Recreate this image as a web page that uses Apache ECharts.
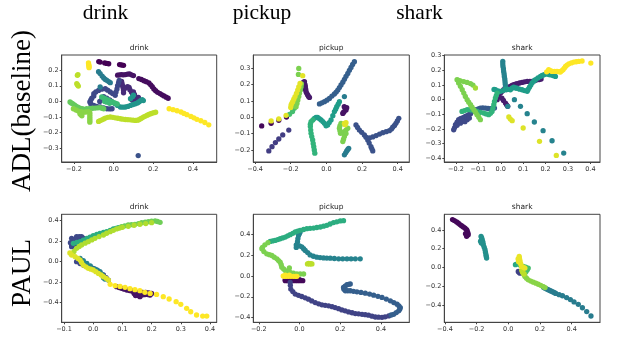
<!DOCTYPE html>
<html>
<head>
<meta charset="utf-8">
<script src="https://cdn.jsdelivr.net/npm/echarts@6/dist/echarts.min.js"></script>
<style>
  html, body { margin: 0; padding: 0; background: #fff; }
  #main { width: 638px; height: 343px; }
</style>
</head>
<body>
<div id="main"></div>
<script>
// viridis, t = 0 (start of sequence) .. 1 (end)
var viridis = ['#440154', '#482878', '#3e4a89', '#31688e', '#26828e', '#1f9e89', '#35b779', '#6ece58', '#b5de2b', '#fde725'];

var columns = ['drink', 'pickup', 'shark'];
var rows = ['ADL(baseline)', 'PAUL'];

// tick labels
var adlDrinkX = [-0.2, 0, 0.2, 0.4];
var adlDrinkY = [-0.3, -0.2, -0.1, 0, 0.1, 0.2];
var adlPickupX = [-0.4, -0.2, 0, 0.2, 0.4];
var adlPickupY = [-0.2, -0.1, 0, 0.1, 0.2, 0.3];
var adlSharkX = [-0.2, -0.1, 0, 0.1, 0.2, 0.3, 0.4];
var adlSharkY = [-0.4, -0.3, -0.2, -0.1, 0, 0.1, 0.2, 0.3];
var paulDrinkX = [-0.1, 0, 0.1, 0.2, 0.3, 0.4];
var paulDrinkY = [-0.4, -0.2, 0, 0.2, 0.4];
var paulPickupX = [-0.2, 0, 0.2, 0.4];
var paulPickupY = [-0.4, -0.2, 0, 0.2, 0.4];
var paulSharkX = [-0.4, -0.2, 0, 0.2, 0.4];
var paulSharkY = [-0.4, -0.2, 0, 0.2, 0.4];

// segments: [t, [[x, y], ...]]
var adlDrink = [
  [0.0, [[-0.075,0.255],[-0.068,0.252],[-0.045,0.246],[-0.035,0.243],[-0.025,0.241],[0.03,0.236],[0.04,0.233],[0.05,0.231]]],
  [0.03, [[0.127,0.146],[0.14,0.14],[0.153,0.132],[0.165,0.126],[0.178,0.118],[0.187,0.106],[0.195,0.094],[0.203,0.08],[0.212,0.068],[0.222,0.058],[0.234,0.05],[0.244,0.042],[0.254,0.035],[0.265,0.027],[0.275,0.02]]],
  [0.05, [[0.02,0.168],[0.03,0.17],[0.04,0.171],[0.05,0.17],[0.06,0.172],[0.07,0.175],[0.08,0.176],[0.09,0.17],[0.1,0.165]]],
  [0.12, [[0.04,0.128],[0.042,0.115],[0.045,0.1],[0.048,0.085],[0.05,0.07],[0.05,0.055],[0.06,0.085],[0.07,0.095],[0.078,0.09],[0.082,0.075],[0.09,0.06],[0.095,0.05],[0.1,0.06],[0.105,0.045],[0.108,0.03],[0.1,0.02],[0.09,0.015],[0.095,0.008],[0.11,0.006],[0.12,0.015],[0.125,0.025]]],
  [0.22, [[-0.11,0.02],[-0.115,0.01],[-0.12,-0.004],[-0.115,-0.016],[-0.1,-0.026],[-0.085,-0.032],[-0.068,-0.036],[-0.05,-0.042],[-0.034,-0.047],[-0.02,-0.048],[-0.008,-0.047],
          [-0.1,0.035],[-0.1,0.049],[-0.09,0.06],[-0.076,0.07],[-0.06,0.078],[-0.042,0.081],[-0.03,0.072],[-0.017,0.06],[-0.005,0.05],[0.008,0.039],[0.012,0.06],[0.017,0.08],[0.02,0.1],[0.025,0.12],[0.028,0.135],
          [-0.05,0.03],[-0.035,0.02],[-0.02,0.01],[-0.01,0.0],[-0.06,0.01],[-0.07,0.0]]],
  [0.25, [[0.124,-0.347]]],
  [0.42, [[-0.076,0.19],[-0.068,0.178],[-0.058,0.162],[-0.05,0.15],[-0.042,0.14],[-0.034,0.135],[-0.025,0.127],[-0.017,0.12],[-0.068,0.092]]],
  [0.52, [[0.008,-0.015],[0.02,-0.026],[0.034,-0.036],[0.047,-0.037],[0.06,-0.036],[0.072,-0.032],[0.085,-0.026],[0.098,-0.02],[0.11,-0.015],[0.12,-0.01],[0.127,-0.004],[0.136,0.004],[0.144,0.011],[0.15,0.005],[0.085,0.017],[0.095,0.03],[0.1,0.04]]],
  [0.68, [[-0.06,0.028],[-0.05,0.022],[-0.042,0.017],[-0.033,0.011],[-0.025,0.006],[-0.016,0.0],[-0.008,-0.004],[0.0,-0.008],[0.008,-0.011],[0.018,-0.016],[-0.045,0.0],[-0.035,-0.005],[-0.02,-0.012]]],
  [0.76, [[-0.22,-0.004],[-0.214,-0.01],[-0.207,-0.015],[-0.198,-0.022],[-0.19,-0.03],[-0.18,-0.037],[-0.17,-0.043],[-0.16,-0.047],[-0.152,-0.049],[-0.136,-0.047],[-0.12,-0.045],[-0.106,-0.044],[-0.093,-0.043],[-0.08,-0.041],[-0.068,-0.04],[-0.058,-0.044],[-0.05,-0.047]]],
  [0.82, [[-0.203,-0.047],[-0.19,-0.055],[-0.178,-0.062],[-0.165,-0.066],[-0.152,-0.069],[-0.14,-0.068],[-0.17,-0.079],[-0.165,-0.086],[-0.16,-0.092],[-0.128,-0.065],[-0.12,-0.072],[-0.12,-0.085],[-0.12,-0.098],[-0.12,-0.11],[-0.12,-0.122],[-0.12,-0.133]]],
  [0.9, [[-0.076,-0.128],[-0.068,-0.123],[-0.059,-0.118],[-0.05,-0.112],[-0.042,-0.107],[-0.03,-0.102],[-0.017,-0.1],[-0.004,-0.102],[0.008,-0.105],[0.021,-0.108],[0.034,-0.111],[0.046,-0.114],[0.059,-0.116],[0.072,-0.117],[0.085,-0.118],[0.098,-0.12],[0.11,-0.122],[0.12,-0.12],[0.127,-0.118],[0.136,-0.111],[0.144,-0.105],[0.152,-0.099],[0.161,-0.094],[0.17,-0.088],[0.178,-0.083],[0.187,-0.079],[0.195,-0.075],[0.204,-0.072],[0.212,-0.069],
         [-0.183,0.167],[-0.18,0.172],[-0.186,0.113],[-0.182,0.105],[-0.178,0.098]]],
  [1.0, [[-0.127,0.246],[-0.126,0.238],[-0.125,0.231],[-0.124,0.222],[-0.124,0.216],
         [0.28,-0.047],[0.30,-0.053],[0.32,-0.06],[0.34,-0.068],[0.355,-0.077],[0.37,-0.085],[0.39,-0.096],[0.405,-0.105],[0.42,-0.115],[0.44,-0.124],[0.46,-0.135],[0.48,-0.15]]]
];

var adlPickup = [
  [0.02, [[-0.363,-0.053],[-0.31,-0.037],[-0.267,-0.018],[-0.224,0.002]]],
  [0.05, [[0.1,0.065],[0.106,0.055],[0.11,0.045],[0.1,0.035],[0.092,0.024],[0.114,0.059],[0.095,0.03]]],
  [0.07, [[-0.136,0.208],[-0.128,0.215],[-0.123,0.218],[-0.12,0.2],[-0.118,0.188],[-0.116,0.172],[-0.114,0.157],[-0.11,0.147],[-0.105,0.137],[-0.1,0.128],[-0.095,0.122],[-0.13,0.19],[-0.125,0.175]]],
  [0.18, [[-0.323,-0.206],[-0.305,-0.18],[-0.286,-0.155],[-0.267,-0.133],[-0.245,-0.108],[-0.211,-0.078]]],
  [0.25, [[0.166,-0.047],[0.175,-0.062],[0.185,-0.078],[0.198,-0.092],[0.213,-0.108],[0.222,-0.122],[0.232,-0.139],[0.24,-0.158],[0.25,-0.18],[0.255,-0.193],[0.26,-0.206],
          [0.241,-0.127],[0.26,-0.12],[0.279,-0.112],[0.298,-0.103],[0.316,-0.094],[0.335,-0.088],[0.353,-0.082],[0.365,-0.072],[0.372,-0.061],[0.382,-0.05],[0.39,-0.037],[0.398,-0.022],[0.406,-0.006]]],
  [0.3, [[-0.039,0.082],[-0.025,0.089],[-0.011,0.096],[0.003,0.105],[0.017,0.116],[0.031,0.13],[0.045,0.143],[0.055,0.155],[0.064,0.167],[0.073,0.182],[0.082,0.198],[0.092,0.215],[0.101,0.233],[0.11,0.251],[0.12,0.269],[0.129,0.288],[0.138,0.306],[0.147,0.324],[0.157,0.341]]],
  [0.42, [[0.101,0.127],[0.101,-0.23],[0.108,-0.218],[0.114,-0.206],[0.12,-0.197],[0.125,-0.19]]],
  [0.55, [[0.073,0.096],[0.066,0.08],[0.058,0.065],[0.052,0.05],[0.045,0.035],[0.036,0.01],[0.026,-0.016],[0.016,-0.032],[0.007,-0.047],[-0.002,-0.052],[-0.011,-0.037],[-0.02,-0.026],[-0.03,-0.016],[-0.04,-0.008],[-0.049,0.0],[-0.058,0.0],[-0.067,-0.006]]],
  [0.65, [[-0.076,-0.016],[-0.086,-0.027],[-0.09,-0.042],[-0.09,-0.057],[-0.088,-0.078],[-0.086,-0.098],[-0.082,-0.118],[-0.077,-0.139],[-0.074,-0.16],[-0.071,-0.18],[-0.068,-0.2],[-0.065,-0.22]]],
  [0.7, [[-0.18,0.055],[-0.175,0.075],[-0.17,0.095],[-0.165,0.115],[-0.16,0.135],[-0.155,0.155],[-0.207,0.018],[-0.19,0.035]]],
  [0.8, [[-0.17,0.065],[-0.165,0.085],[-0.16,0.106],[-0.155,0.127],[-0.151,0.147],[-0.146,0.168],[-0.142,0.188],[-0.14,0.205],[-0.157,0.263],[-0.155,0.3],
         [0.082,-0.037],[0.076,-0.052],[0.073,-0.067],[0.076,-0.082],[0.079,-0.098],[0.09,-0.095],[0.101,-0.088],[0.11,-0.078],[0.12,-0.067],[0.11,-0.1],[0.101,-0.118],[0.096,-0.134],[0.092,-0.149]]],
  [0.96, [[-0.198,0.076],[-0.194,0.086],[-0.189,0.096],[-0.183,0.111],[-0.176,0.127],[-0.168,0.147],[-0.161,0.167],[-0.155,0.187],[-0.148,0.208],[-0.133,0.255],
          [-0.31,-0.022],[-0.267,-0.01],[-0.226,0.012],[-0.2,0.06],[0.101,-0.037],[0.11,-0.033],[0.105,-0.045]]]
];

var adlShark = [
  [0.08, [[-0.016,0.0],[-0.008,0.022],[-0.001,0.045],[0.006,0.057],[0.013,0.068],[0.02,0.074],[0.028,0.08],[0.036,0.086],[0.043,0.091],[0.05,0.097],[0.058,0.102],[0.066,0.106],[0.073,0.109],[0.084,0.114],[0.095,0.118],[0.106,0.122],[0.118,0.125],[0.13,0.125],[0.14,0.125],[0.151,0.13],[0.162,0.136],[0.172,0.138],[0.18,0.141],
          [0.005,0.01],[0.012,-0.005],[0.021,-0.023],[0.026,-0.035],[0.031,-0.045]]],
  [0.22, [[-0.21,-0.205],[-0.206,-0.19],[-0.202,-0.17],[-0.195,-0.153],[-0.188,-0.136],[-0.18,-0.13],[-0.173,-0.125],[-0.165,-0.12],[-0.158,-0.114],[-0.15,-0.108],[-0.143,-0.102],[-0.15,-0.136],[-0.16,-0.15],[-0.17,-0.145],[-0.18,-0.16],[-0.195,-0.175],[-0.14,-0.125],[-0.135,-0.095]]],
  [0.28, [[-0.128,-0.08],[-0.113,-0.068],[-0.1,-0.062],[-0.091,-0.057],[-0.08,-0.056],[-0.068,-0.057],[-0.057,-0.06],[-0.046,-0.061],[-0.037,-0.058],[-0.028,-0.057]]],
  [0.45, [[0.009,0.261],[0.009,0.244],[0.01,0.227],[0.012,0.21],[0.013,0.193],[0.015,0.176],[0.016,0.159],[0.018,0.142],[0.019,0.125],[0.02,0.108],[0.021,0.091],[0.024,0.068],
          [0.031,-0.045],[0.061,0.0],[0.088,-0.045],[0.118,-0.095],[0.15,-0.152],[0.189,-0.211],[0.229,-0.28],[0.281,-0.364]]],
  [0.55, [[-0.03,0.07],[-0.024,0.068],[-0.012,0.06],[-0.001,0.057],[0.01,0.062],[0.021,0.072],[0.032,0.07],[0.043,0.068],[0.05,0.078],[0.058,0.085],[0.066,0.08],[0.073,0.078],[0.084,0.072],[0.095,0.068],[0.106,0.062],[0.118,0.057],[0.122,0.07],[0.128,0.085],[0.134,0.1],[0.14,0.115],[0.148,0.128],[0.155,0.136],[0.166,0.148],[0.177,0.159],[0.185,0.165],[0.192,0.17],[0.2,0.175],[0.207,0.177],[0.215,0.172],[0.222,0.17],[0.233,0.165],[0.244,0.159]]],
  [0.65, [[-0.173,-0.08],[-0.162,-0.074],[-0.15,-0.068],[-0.138,-0.068],[-0.128,-0.07],[-0.117,-0.074],[-0.106,-0.08],[-0.091,-0.086],[-0.076,-0.091],[-0.065,-0.097],[-0.054,-0.102],[-0.046,-0.093],[-0.039,-0.08],[-0.035,-0.058],[-0.031,-0.034],[-0.028,-0.012],[-0.024,0.011],[-0.02,0.028],[-0.016,0.045]]],
  [0.8, [[-0.195,0.136],[-0.188,0.114],[-0.18,0.091],[-0.172,0.068],[-0.165,0.045],[-0.158,0.022],[-0.15,0.0],[-0.143,-0.017],[-0.135,-0.034],[-0.128,-0.051],[-0.12,-0.068],[-0.113,-0.085],[-0.106,-0.102],[-0.098,-0.119],[-0.091,-0.136],
          [-0.188,0.132],[-0.18,0.128],[-0.165,0.124],[-0.15,0.118],[-0.135,0.11],[-0.124,0.1]]],
  [0.86, [[-0.113,0.08]]],
  [0.95, [[0.036,-0.118],[0.043,-0.132],[0.051,-0.143],[0.1,-0.193],[0.173,-0.284],[0.248,-0.38]]],
  [1.0, [[0.205,0.19],[0.214,0.205],[0.222,0.199],[0.229,0.193],[0.24,0.193],[0.251,0.193],[0.26,0.191],[0.266,0.189],[0.272,0.197],[0.278,0.205],[0.284,0.216],[0.289,0.227],[0.296,0.236],[0.304,0.245],[0.315,0.251],[0.326,0.257],[0.337,0.259],[0.348,0.261],[0.363,0.264],[0.402,0.25]]]
];

var paulDrink = [
  [0.05, [[0.08,-0.244],[0.089,-0.252],[0.097,-0.26],[0.106,-0.268],[0.115,-0.276],[0.124,-0.281],[0.132,-0.286],[0.14,-0.292],[0.149,-0.299],[0.152,-0.315],[0.155,-0.33],[0.16,-0.341],[0.166,-0.325],[0.175,-0.322],[0.183,-0.319],[0.19,-0.322],[0.195,-0.325],[0.2,-0.309],[0.14,-0.31],[0.145,-0.33],[0.17,-0.3],[0.18,-0.3],[0.19,-0.305]]],
  [0.22, [[-0.074,0.228],[-0.07,0.21],[-0.068,0.195],[-0.062,0.22],[-0.057,0.244],[-0.048,0.245],[-0.04,0.244],[-0.034,0.23],[-0.034,0.211],[-0.074,0.146],[-0.074,0.165],[-0.062,0.163],[-0.078,0.185],[-0.05,0.2],
          [-0.057,0.0],[-0.045,-0.018],[-0.034,-0.033],[-0.022,-0.04],[-0.011,-0.049],[0.0,-0.065],[0.012,-0.081],[0.023,-0.105],[0.035,-0.13],[0.044,-0.155],[0.052,-0.179]]],
  [0.45, [[-0.045,0.033],[-0.034,0.01],[-0.022,-0.016],[-0.01,-0.04],[0.005,-0.07],[0.015,-0.085],[0.023,-0.098],[0.03,-0.125],[0.035,-0.156],[0.04,-0.17]]],
  [0.62, [[-0.068,0.179],[-0.056,0.187],[-0.045,0.195],[-0.034,0.21],[-0.022,0.228],[-0.011,0.24],[0.0,0.254],[0.012,0.265],[0.023,0.276],[0.035,0.285],[0.046,0.293],[0.058,0.306],[0.069,0.319],[0.078,0.325],[0.086,0.332]]],
  [0.78, [[0.097,0.341],[0.108,0.35],[0.12,0.358],[0.131,0.361],[0.143,0.364],[0.155,0.372],[0.166,0.38],[0.178,0.385],[0.189,0.39],[0.2,0.394],[0.212,0.397],[0.22,0.392],[0.229,0.384]]],
  [0.88, [[-0.074,0.072],[-0.066,0.1],[-0.057,0.13],[-0.048,0.148],[-0.04,0.163],[-0.028,0.18],[-0.017,0.195],[-0.005,0.212],[0.006,0.228],[0.02,0.245],[0.035,0.26],[0.046,0.277],[0.058,0.293],[0.069,0.306],[0.08,0.319],[0.09,0.328],[0.1,0.335],[0.12,0.345],[0.14,0.355],[0.16,0.365],[0.18,0.372],[0.2,0.38]]],
  [0.95, [[-0.08,0.085],[-0.074,0.065],[-0.062,0.049],[-0.052,0.032],[-0.045,0.016],[-0.04,-0.008],[-0.034,-0.033],[-0.025,-0.05],[-0.017,-0.065],[-0.008,-0.073],[0.0,-0.081],[0.009,-0.097],[0.018,-0.114],[0.027,-0.13],[0.035,-0.146],[0.044,-0.162],[0.052,-0.179]]],
  [1.0, [[0.058,-0.221],[0.075,-0.234],[0.092,-0.241],[0.109,-0.25],[0.126,-0.263],[0.143,-0.273],[0.16,-0.283],[0.177,-0.299],[0.195,-0.309],[0.217,-0.319],[0.24,-0.341],[0.26,-0.364],[0.284,-0.39],[0.3,-0.416],[0.32,-0.455],[0.334,-0.488],[0.354,-0.52],[0.375,-0.53],[0.389,-0.53]]]
];

var paulPickup = [
  [0.02, [[-0.07,-0.045],[-0.058,-0.045],[-0.046,-0.045],[-0.034,-0.045],[-0.021,-0.045],[-0.009,-0.045],[0.003,-0.045],[0.016,-0.045],[-0.07,-0.035],[-0.05,-0.035],[-0.03,-0.035],[0.0,-0.035]]],
  [0.2, [[-0.046,-0.061],[-0.045,-0.09],[-0.043,-0.126],[-0.033,-0.15],[-0.021,-0.174],[-0.005,-0.186],[0.011,-0.197],[0.028,-0.21],[0.044,-0.223],[0.06,-0.24],[0.077,-0.255],[0.094,-0.267],[0.11,-0.277],[0.126,-0.282],[0.143,-0.287],[0.16,-0.295],[0.175,-0.303],[0.192,-0.314],[0.208,-0.326],[0.224,-0.335],[0.241,-0.345],[0.258,-0.353],[0.274,-0.361],[0.29,-0.364],[0.307,-0.368],[0.323,-0.372],[0.339,-0.377],[0.356,-0.386],[0.372,-0.394],[0.388,-0.396],[0.405,-0.397],[0.42,-0.392],[0.438,-0.384]]],
  [0.3, [[0.45,-0.375],[0.462,-0.368],[0.475,-0.352],[0.487,-0.335],[0.492,-0.32],[0.495,-0.303],[0.488,-0.287],[0.479,-0.271],[0.463,-0.255],[0.446,-0.239],[0.426,-0.222],[0.405,-0.206],[0.385,-0.195],[0.364,-0.184],[0.344,-0.174],[0.323,-0.165],[0.302,-0.158],[0.282,-0.152],[0.265,-0.147],[0.249,-0.142],[0.237,-0.142],[0.225,-0.142],[0.218,-0.127],[0.216,-0.11],[0.224,-0.097],[0.233,-0.084],[0.241,-0.08],[0.249,-0.077]]],
  [0.45, [[0.003,0.423],[-0.001,0.405],[-0.005,0.39],[-0.008,0.36],[-0.01,0.33],[-0.016,0.3],[-0.016,0.275],[-0.012,0.295],[0.0,0.29],[0.011,0.28],[0.02,0.262],[0.028,0.245],[0.04,0.225],[0.052,0.203],[0.068,0.19],[0.085,0.181],[0.101,0.177],[0.118,0.174],[0.134,0.172],[0.151,0.171],[0.171,0.168],[0.192,0.165],[0.212,0.165],[0.233,0.165],[0.253,0.165],[0.274,0.165],[0.298,0.165]]],
  [0.62, [[-0.144,0.332],[-0.132,0.337],[-0.12,0.342],[-0.107,0.35],[-0.095,0.358],[-0.083,0.366],[-0.07,0.374],[-0.058,0.386],[-0.046,0.397],[-0.033,0.41],[-0.021,0.423],[-0.009,0.432],[0.003,0.439],[0.02,0.447],[0.036,0.455],[0.052,0.458],[0.069,0.461],[0.085,0.466],[0.102,0.471],[0.118,0.479],[0.134,0.487],[0.15,0.5],[0.167,0.513],[0.183,0.521],[0.2,0.529],[0.216,0.532]]],
  [0.8, [[-0.155,0.32],[-0.17,0.3],[-0.182,0.275],[-0.185,0.262],[-0.175,0.235],[-0.161,0.213],[-0.148,0.205],[-0.136,0.197],[-0.124,0.18],[-0.111,0.165],[-0.103,0.148],[-0.095,0.132],[-0.09,0.108],[-0.087,0.084],[-0.078,0.068],[-0.07,0.052],[-0.058,0.043],[-0.046,0.035],[-0.03,0.027],[-0.013,0.019],[0.003,0.019],[0.02,0.019],[-0.05,0.077]]],
  [0.9, [[0.039,0.116],[0.045,0.12],[0.05,0.116],[0.055,0.118],[0.061,0.116]]],
  [1.0, [[-0.08,0.0],[-0.075,-0.003],[-0.065,-0.003],[-0.054,-0.003],[-0.042,-0.003],[-0.03,-0.003],[-0.02,-0.003],[-0.013,-0.003],[-0.07,0.008],[-0.05,0.008]]]
];

var paulShark = [
  [0.02, [[-0.352,0.511],[-0.34,0.5],[-0.326,0.486],[-0.315,0.472],[-0.305,0.457],[-0.295,0.445],[-0.284,0.432],[-0.273,0.418],[-0.263,0.404],[-0.259,0.386],[-0.255,0.368],[-0.253,0.35],[-0.263,0.332],[-0.27,0.36]]],
  [0.2, [[0.063,-0.043],[0.068,-0.05],[0.074,-0.061],[0.08,-0.05]]],
  [0.42, [[0.222,-0.21],[0.232,-0.221],[0.242,-0.23],[0.252,-0.238],[0.262,-0.246],[0.272,-0.254],[0.282,-0.262],[0.292,-0.27],[0.3,-0.277],[0.321,-0.29],[0.342,-0.302],[0.368,-0.321],[0.392,-0.343],[0.415,-0.368],[0.442,-0.393],[0.468,-0.43],[0.495,-0.471],[0.522,-0.518]]],
  [0.5, [[-0.172,0.33],[-0.168,0.314],[-0.165,0.296],[-0.162,0.279],[-0.16,0.261],[-0.158,0.243],[-0.152,0.216],[-0.147,0.189],[-0.144,0.162],[-0.141,0.136],[-0.139,0.118],[-0.137,0.1],[-0.175,0.28],[-0.17,0.26]]],
  [0.6, [[0.045,0.03],[0.053,0.036]]],
  [0.7, [[0.074,0.025],[0.095,0.011],[0.11,0.002],[0.126,-0.007],[0.12,-0.025],[0.112,-0.043],[0.105,-0.06]]],
  [0.82, [[0.095,-0.061],[0.1,-0.078],[0.105,-0.096],[0.115,-0.114],[0.126,-0.132],[0.142,-0.145],[0.158,-0.157],[0.174,-0.168],[0.189,-0.179],[0.205,-0.191],[0.221,-0.204],[0.232,-0.215]]],
  [0.9, [[0.09,-0.05],[0.1,-0.07],[0.085,-0.03]]],
  [0.97, [[0.069,0.118],[0.07,0.1],[0.072,0.082],[0.074,0.064],[0.078,0.04],[0.084,0.011],[0.095,0.002],[0.105,-0.007],[0.062,0.09],[0.065,0.06]]]
];

var panels = [
  { title: 'drink',  segs: adlDrink,   xr: [-0.262, 0.52],  yr: [-0.388, 0.297], xt: adlDrinkX,   yt: adlDrinkY,   box: [61.7, 55, 155, 107] },
  { title: 'pickup', segs: adlPickup,  xr: [-0.41, 0.465],  yr: [-0.274, 0.382], xt: adlPickupX,  yt: adlPickupY,  box: [253.3, 55, 156, 107] },
  { title: 'shark',  segs: adlShark,   xr: [-0.252, 0.443], yr: [-0.425, 0.305], xt: adlSharkX,   yt: adlSharkY,   box: [444.3, 55, 155.7, 107] },
  { title: 'drink',  segs: paulDrink,  xr: [-0.108, 0.423], yr: [-0.591, 0.462], xt: paulDrinkX,  yt: paulDrinkY,  box: [61.7, 214.3, 155, 108] },
  { title: 'pickup', segs: paulPickup, xr: [-0.227, 0.539], yr: [-0.445, 0.593], xt: paulPickupX, yt: paulPickupY, box: [253.3, 214.3, 156, 108] },
  { title: 'shark',  segs: paulShark,  xr: [-0.404, 0.579], yr: [-0.585, 0.567], xt: paulSharkX,  yt: paulSharkY,  box: [444.3, 214.3, 155.7, 108] }
];

function fmt(v) {
  if (Math.abs(v) < 1e-9) return '0.0';
  return v.toFixed(1).replace('-', '\u2212');
}

var grids = [], xAxes = [], yAxes = [], series = [], graphics = [];
panels.forEach(function (p, i) {
  grids.push({ left: p.box[0], top: p.box[1], width: p.box[2], height: p.box[3],
    show: true, borderColor: '#444', borderWidth: 1, backgroundColor: '#fff' });
  var axisCommon = {
    type: 'value', gridIndex: i,
    axisLine: { show: true, onZero: false, lineStyle: { color: '#444', width: 1 } },
    splitLine: { show: false },
    axisLabel: { fontSize: 6.5, color: '#333', fontFamily: 'DejaVu Sans', margin: 3, formatter: fmt },
    axisTick: { show: true, length: 2, lineStyle: { color: '#444' } }
  };
  xAxes.push(echarts.util.merge({
    min: p.xr[0], max: p.xr[1],
    axisLabel: { customValues: p.xt, margin: 4 },
    axisTick: { customValues: p.xt }
  }, axisCommon));
  yAxes.push(echarts.util.merge({
    min: p.yr[0], max: p.yr[1],
    axisLabel: { customValues: p.yt },
    axisTick: { customValues: p.yt }
  }, axisCommon));
  var segs = p.segs.slice().sort(function (a, b) { return a[0] - b[0]; });
  var data = [];
  segs.forEach(function (s) {
    s[1].forEach(function (pt) { data.push([pt[0], pt[1], s[0]]); });
  });
  series.push({ type: 'scatter', xAxisIndex: i, yAxisIndex: i, data: data,
    symbolSize: 5.3, silent: true, itemStyle: { opacity: 1 } });
  graphics.push({ type: 'text', x: p.box[0] + p.box[2] / 2, y: p.box[1] - 7,
    style: { text: p.title, font: '7.5px "DejaVu Sans"', fill: '#222',
      align: 'center', verticalAlign: 'middle', textAlign: 'center', textVerticalAlign: 'middle' } });
});

// big column headers and row labels
var headerX = [105.5, 262, 419.5];
columns.forEach(function (c, j) {
  graphics.push({ type: 'text', x: headerX[j], y: 13.5,
    style: { text: c, font: '21.5px "Liberation Serif"', fill: '#000',
      align: 'center', verticalAlign: 'middle', textAlign: 'center', textVerticalAlign: 'middle' } });
});
var rowY = [111, 273];
rows.forEach(function (r, j) {
  graphics.push({ type: 'text', x: 23, y: rowY[j], rotation: Math.PI / 2,
    style: { text: r, font: '27px "Liberation Serif"', fill: '#000',
      align: 'center', verticalAlign: 'middle', textAlign: 'center', textVerticalAlign: 'middle' } });
});

var chart = echarts.init(document.getElementById('main'));
chart.setOption({
  backgroundColor: '#fff',
  animation: false,
  visualMap: { type: 'continuous', show: false, min: 0, max: 1, dimension: 2, inRange: { color: viridis } },
  grid: grids,
  xAxis: xAxes,
  yAxis: yAxes,
  series: series,
  graphic: graphics
});
</script>
</body>
</html>
